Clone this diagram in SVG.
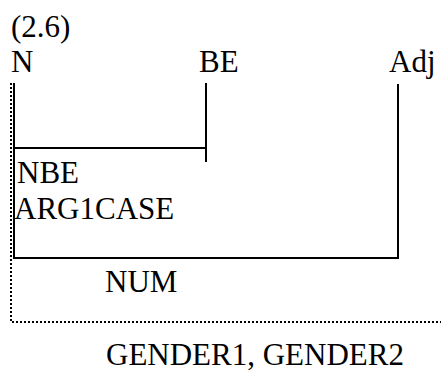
<svg xmlns="http://www.w3.org/2000/svg" width="441" height="370" viewBox="0 0 441 370">
<style>
text{font-family:'Liberation Serif','Times New Roman',Times,serif;font-size:31px;fill:#000}
.s{stroke:#000;stroke-width:2;fill:none}
.d{stroke:#000;stroke-width:2;stroke-dasharray:2 2;fill:none}
</style>
<rect width="441" height="370" fill="#fff"/>
<text x="11" y="37">(2.6)</text>
<g id="N"><text x="11" y="72">N</text></g>
<g id="BE"><text x="199" y="72">BE</text></g>
<g id="Adj"><text x="389" y="72">Adj</text></g>
<g id="connectors">
<path class="d" d="M11 83V322H441"/>
<path class="s" d="M14 83V258H398V84"/>
<path class="s" d="M14 148H206"/>
<path class="s" d="M206 83V162"/>
</g>
<g id="labels">
<text x="17" y="183">NBE</text>
<text x="14" y="219">ARG1CASE</text>
<text x="105" y="292">NUM</text>
<text x="106" y="365">GENDER1, GENDER2</text>
</g>
</svg>
